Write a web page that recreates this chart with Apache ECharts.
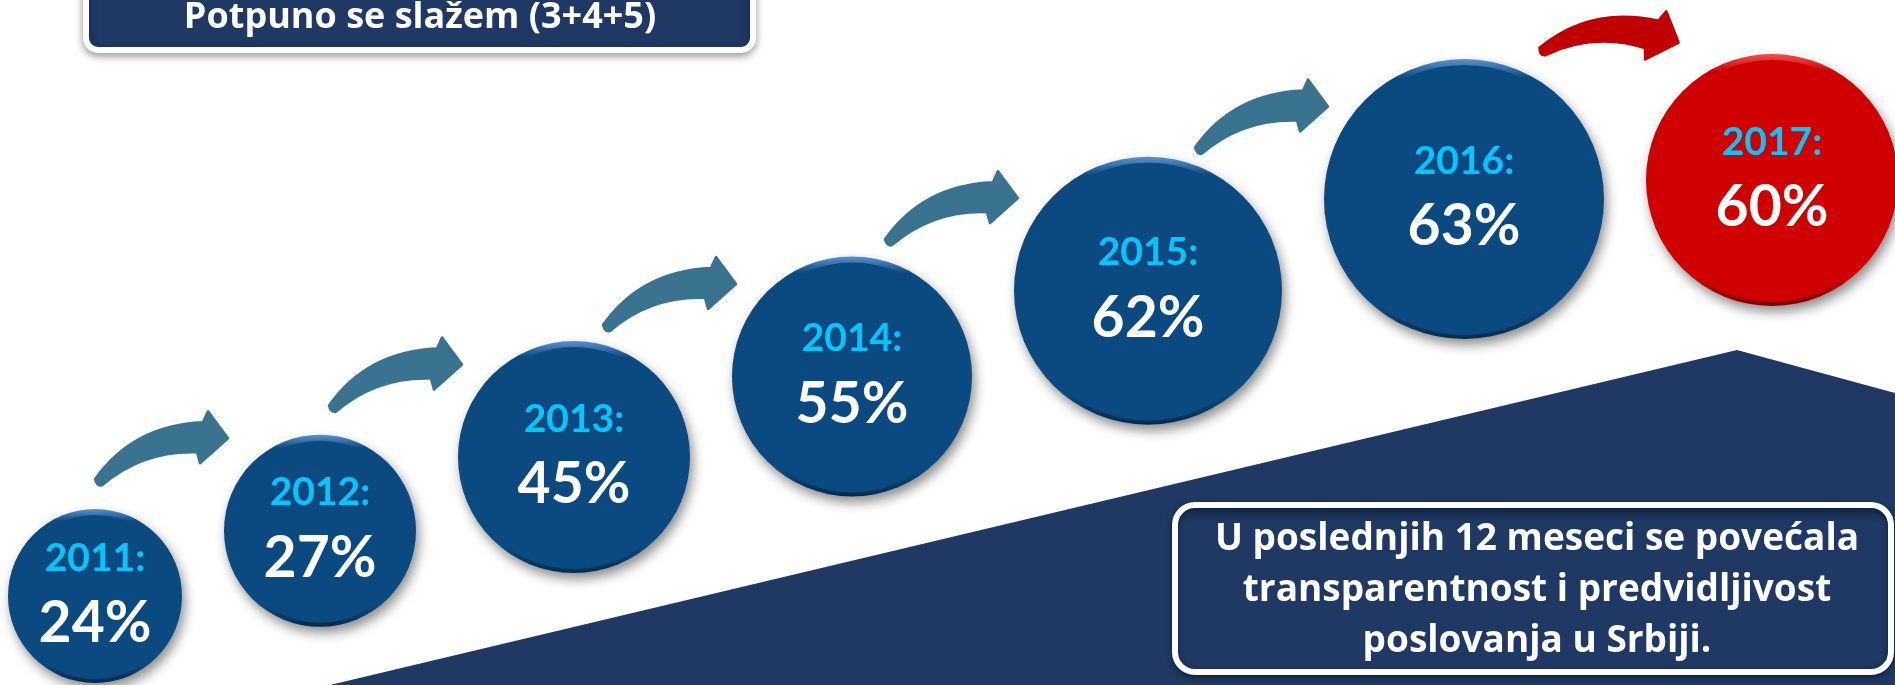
<!DOCTYPE html>
<html>
<head>
<meta charset="utf-8">
<title>Potpuno se slažem (3+4+5)</title>
<script src="https://cdn.jsdelivr.net/npm/echarts@6/dist/echarts.min.js"></script>
<style>
  html, body { margin: 0; padding: 0; background: #ffffff; }
  #chart { width: 1895px; height: 685px; }
</style>
</head>
<body>
<div id="chart"></div>
<script>
// podaci
const years = ['2011', '2012', '2013', '2014', '2015', '2016', '2017'];
const shares = [24, 27, 45, 55, 62, 63, 60];
const currentYear = '2017';
const titleText = 'Potpuno se slažem (3+4+5)';
const noteLines = [
  'U poslednjih 12 meseci se povećala',
  'transparentnost i predvidljivost',
  'poslovanja u Srbiji.'
];

// izgled
const W = 1895, H = 685;
const FONT = 'Lato, "Open Sans", sans-serif';
const BOX_FONT = '"Open Sans", Lato, sans-serif';
const NAVY = '#1f3864';
const bubbleRadius = [87, 96, 116, 120, 134, 140, 126];
const BUBBLE_GAP = 42;
const START = [95, 596];
const RISE = 0.29;

const blue = { rim: '#5a93cf', body: '#0b4a80', dark: '#042a4d', arrow: '#3a7390' };
const red = { rim: '#f05050', body: '#d00000', dark: '#7a0000', arrow: '#c00000' };

// kruzici idu stepenicama, jedan do drugog
function layoutBubbles() {
  const pts = [];
  let x = START[0];
  years.forEach(function (y, i) {
    if (i > 0) x += bubbleRadius[i - 1] + BUBBLE_GAP + bubbleRadius[i];
    let cy;
    if (y === currentYear) {
      cy = pts[i - 1][1] - bubbleRadius[i - 1] - 5 + bubbleRadius[i];
    } else {
      cy = START[1] - RISE * (x - START[0]);
    }
    pts.push([x, cy]);
  });
  return pts;
}
const centers = layoutBubbles();

// strelica, koordinate oko sredine tetive
const ARROW_PATH =
  'M -68 18.5 Q -30 -35.5 40 -38.5 L 45 -49.5 L 65 -22.5 L 37 2.5 L 34 -8.5 ' +
  'Q -20 -10.5 -61 24.5 Q -66 26 -68 18.5 Z';

const bubbleData = years.map(function (y, i) {
  return { name: y, value: [centers[i][0], centers[i][1], shares[i], i] };
});
const arrowData = years.slice(1).map(function (y, k) {
  return { name: y, value: [k, k + 1] };
});

const chart = echarts.init(document.getElementById('chart'));

chart.setOption({
  animation: false,
  backgroundColor: '#ffffff',
  grid: { left: 0, right: 0, top: 0, bottom: 0 },
  xAxis: { type: 'value', min: 0, max: W, show: false },
  yAxis: { type: 'value', min: 0, max: H, inverse: true, show: false },
  graphic: [
    {
      type: 'polygon',
      z: 0,
      shape: { points: [[330, H], [1737, 350], [W, 393], [W, H]] },
      style: { fill: NAVY }
    },
    {
      type: 'rect',
      z: 1,
      shape: { x: 86, y: -20, width: 667, height: 70, r: 12 },
      style: {
        fill: NAVY, stroke: '#ffffff', lineWidth: 6,
        shadowBlur: 8, shadowOffsetY: 3, shadowColor: 'rgba(0,0,0,0.35)'
      }
    },
    {
      type: 'text',
      z: 2,
      style: {
        text: titleText, x: 420, y: 18, fill: '#ffffff',
        font: 'bold 36px ' + BOX_FONT, align: 'center', verticalAlign: 'middle'
      }
    },
    {
      type: 'rect',
      z: 1,
      shape: { x: 1175, y: 505, width: 716, height: 167, r: 20 },
      style: {
        fill: new echarts.graphic.LinearGradient(0, 0, 0, 1, [
          { offset: 0, color: '#152a4c' },
          { offset: 0.12, color: NAVY },
          { offset: 1, color: NAVY }
        ]),
        stroke: '#ffffff', lineWidth: 6,
        shadowBlur: 6, shadowOffsetY: 2, shadowColor: 'rgba(0,0,0,0.4)'
      }
    },
    {
      type: 'text',
      z: 2,
      style: {
        text: noteLines.join('\n'), x: 1537, y: 590, fill: '#ffffff',
        font: 'bold 37px ' + BOX_FONT, lineHeight: 51,
        align: 'center', verticalAlign: 'middle'
      }
    }
  ],
  series: [
    {
      type: 'custom',
      name: 'strelice',
      coordinateSystem: 'cartesian2d',
      z: 3,
      data: arrowData,
      renderItem: function (params, api) {
        const a = api.value(0), b = api.value(1);
        const p = api.coord(centers[a]), n = api.coord(centers[b]);
        const pr = bubbleRadius[a], nr = bubbleRadius[b];
        const hot = years[b] === currentYear;
        const gapMid = ((p[0] + pr) + (n[0] - nr)) / 2;
        const avgTop = ((p[1] - pr) + (n[1] - nr)) / 2;
        const pos = hot ? [gapMid - 15, avgTop - 9] : [gapMid - 40, n[1] - 70];
        const col = hot ? red.arrow : blue.arrow;
        return {
          type: 'path',
          x: pos[0], y: pos[1],
          rotation: hot ? -15 * Math.PI / 180 : 0,
          shape: { pathData: ARROW_PATH },
          style: { fill: col, stroke: col, lineWidth: 2.5, lineJoin: 'round' }
        };
      }
    },
    {
      type: 'custom',
      name: 'krugovi',
      coordinateSystem: 'cartesian2d',
      z: 4,
      data: bubbleData,
      renderItem: function (params, api) {
        const i = api.value(3);
        const c = api.coord([api.value(0), api.value(1)]);
        const r = bubbleRadius[i];
        const pal = years[i] === currentYear ? red : blue;
        return {
          type: 'group',
          children: [
            {
              type: 'circle',
              shape: { cx: c[0], cy: c[1], r: r },
              style: {
                fill: new echarts.graphic.LinearGradient(0, 0, 0, 1, [
                  { offset: 0, color: pal.rim },
                  { offset: 0.07, color: pal.body },
                  { offset: 0.88, color: pal.body },
                  { offset: 1, color: pal.dark }
                ]),
                shadowBlur: 12, shadowOffsetX: 3, shadowOffsetY: 6,
                shadowColor: 'rgba(0,0,0,0.45)'
              }
            },
            {
              type: 'circle',
              shape: { cx: c[0], cy: c[1] + 1, r: r - 5 },
              style: { fill: pal.body }
            },
            {
              type: 'text',
              style: {
                text: years[i] + ':', x: c[0], y: c[1] - 38, fill: '#00c8ff',
                font: 'bold 39px ' + FONT, align: 'center', verticalAlign: 'middle'
              }
            },
            {
              type: 'text',
              style: {
                text: api.value(2) + '%', x: c[0], y: c[1] + 28, fill: '#ffffff',
                font: 'bold 57px ' + FONT, align: 'center', verticalAlign: 'middle'
              }
            }
          ]
        };
      }
    }
  ]
});
</script>
</body>
</html>
